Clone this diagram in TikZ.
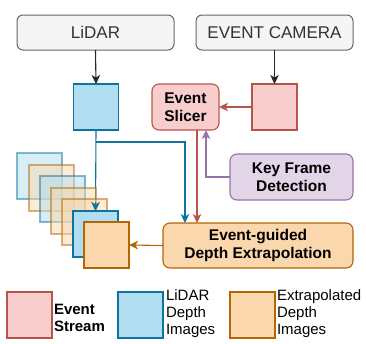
\documentclass[tikz,border=0pt]{standalone}
\usepackage{fontspec}
\setmainfont{Liberation Sans}
\usetikzlibrary{arrows.meta,calc}
\definecolor{grayfill}{HTML}{F5F5F5}
\definecolor{graydraw}{HTML}{666666}
\definecolor{graytext}{HTML}{333333}
\definecolor{redfill}{HTML}{F8CECC}
\definecolor{reddraw}{HTML}{B85450}
\definecolor{bluefill}{HTML}{B1DDF0}
\definecolor{bluedraw}{HTML}{10739E}
\definecolor{orfill}{HTML}{FAD7AC}
\definecolor{ordraw}{HTML}{B46504}
\definecolor{pufill}{HTML}{E1D5E7}
\definecolor{pudraw}{HTML}{9673A6}
\tikzset{
  x=1pt, y=-1pt,
  every node/.style={inner sep=0pt, outer sep=0pt},
  titlebox/.style={draw=graydraw, fill=grayfill, line width=1pt, rounded corners=6pt,
    minimum width=157pt, minimum height=35pt, text=graytext,
    font=\fontsize{17}{20}\selectfont},
  sq/.style={line width=1.1pt, minimum width=45pt, minimum height=46pt, anchor=north west},
  redsq/.style={sq, draw=reddraw, fill=redfill},
  bluesq/.style={sq, draw=bluedraw, fill=bluefill},
  orsq/.style={sq, draw=ordraw, fill=orfill},
  ghost/.style={opacity=0.5},
  procbox/.style={line width=1.1pt, rounded corners=7pt, align=center,
    font=\fontsize{15.5}{18}\selectfont\bfseries},
  tip/.style={-{Stealth[length=9pt,width=8.5pt,inset=2.5pt]}, line width=1.1pt},
  legtext/.style={anchor=west, align=left, font=\fontsize{15}{17}\selectfont},
}
\begin{document}
\begin{tikzpicture}
\useasboundingbox (0,0) rectangle (366,343);
% title boxes
\node[titlebox] (lidar) at (95.5,32.5) {LiDAR};
\node[titlebox] (camera) at (274.5,32.5) {EVENT CAMERA};
% image squares
\node[bluesq] (lidarimg) at (73.5,84) {};
\node[redsq] (evimg) at (252,84) {};
% process boxes
\node[procbox, draw=reddraw, fill=redfill, minimum width=67pt, minimum height=46pt] (slicer) at (185.5,107) {Event\\Slicer};
\node[procbox, draw=pudraw, fill=pufill, minimum width=123pt, minimum height=46pt] (keyframe) at (291.5,177) {Key Frame\\Detection};
\node[procbox, draw=ordraw, fill=orfill, minimum width=190pt, minimum height=45pt] (extrap) at (258,245.5) {Event-guided\\Depth Extrapolation};
% coordinates for connector columns
\coordinate (br) at (96,142);
\coordinate (bx) at (185,0);
\coordinate (rx) at (197,0);
\coordinate (px) at (206,0);
% blue connector behind the stack
\node[bluesq] (stackblue) at (73,211) {};
\draw[tip, bluedraw] (lidarimg.south) -- (stackblue.north);
% stack of ghost frames
\node[bluesq, ghost] (g1) at (17,153) {};
\node[orsq, ghost] (g2) at (29,165) {};
\node[bluesq, ghost] (g3) at (40,176) {};
\node[orsq, ghost] (g4) at (51,188) {};
\node[orsq, ghost] (g5) at (62,199) {};
\node[bluesq] (stackblue2) at (73,211) {};
\draw[tip, bluedraw] ($(stackblue2.north)+(0,-9)$) -- (stackblue2.north);
\node[orsq] (stackor) at (84,222) {};
% connectors
\draw[tip, black!85] (lidar.south) -- (lidarimg.north);
\draw[tip, black!85] (camera.south) -- (evimg.north);
\draw[tip, reddraw] (evimg.west) -- (slicer.east);
\draw[tip, bluedraw] (br) -| (extrap.north -| bx);
\draw[tip, reddraw] (slicer.south -| rx) -- (extrap.north -| rx);
\draw[tip, pudraw, {Stealth[length=9pt,width=8.5pt,inset=2.5pt]}-] (slicer.south -| px) |- (keyframe.west);
\draw[tip, ordraw] (extrap.west) -- (stackor.east);
% legend
\node[redsq] (legred) at (7,292) {};
\node[bluesq] (legblue) at (118,292) {};
\node[orsq] (legor) at (230,292) {};
\node[legtext, font=\fontsize{15}{17}\selectfont\bfseries] (legredt) at (54,318) {Event\\Stream};
\node[legtext] (legbluet) at (166,314) {LiDAR\\Depth\\Images};
\node[legtext] (legort) at (277,314) {Extrapolated\\Depth\\Images};
\end{tikzpicture}
\end{document}
